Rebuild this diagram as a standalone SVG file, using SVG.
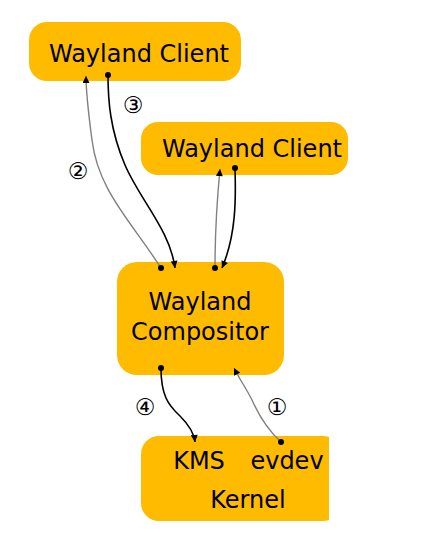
<svg xmlns="http://www.w3.org/2000/svg" width="446" height="538" viewBox="0 0 446 538">
<style>
.box{fill:#FFBB00}
.t{font-family:"DejaVu Sans",sans-serif;font-size:24px;fill:#000;text-anchor:middle}
.n{font-family:"DejaVu Sans",sans-serif;font-size:23px;fill:#000;text-anchor:middle}
.g{fill:none;stroke:#808080;stroke-width:1.4}
.k{fill:none;stroke:#000;stroke-width:1.6}
.d{fill:#000}
</style>
<defs>
<marker id="ak" viewBox="0 0 10 10" refX="10" refY="5" markerWidth="8" markerHeight="7" orient="auto" markerUnits="userSpaceOnUse"><path d="M0,0 L10,5 L0,10 z" fill="#000"/></marker>
</defs>
<g id="client1"><rect class="box" x="29" y="22" width="212" height="59" rx="18"/><text class="t" x="139" y="62">Wayland Client</text></g>
<g id="client2"><rect class="box" x="141" y="122" width="207" height="53" rx="17"/><text class="t" x="252" y="157">Wayland Client</text></g>
<g id="compositor"><rect class="box" x="117" y="262" width="167" height="113" rx="20"/><text class="t" x="200" y="310">Wayland</text><text class="t" x="200" y="340">Compositor</text></g>
<g id="kernel"><rect class="box" x="141" y="436" width="200" height="85" rx="18"/><rect x="329" y="430" width="20" height="95" fill="#fff"/><text class="t" x="199" y="469">KMS</text><text class="t" x="287" y="469">evdev</text><text class="t" x="248" y="508">Kernel</text></g>
<g id="connectors">
<path class="g" d="M161,268 C130,220 98,190 92,140 C88,110 86,95 86,76" marker-end="url(#ak)"/>
<path class="k" d="M108,75 C108,100 110,130 125,165 C140,200 170,230 175,268" marker-end="url(#ak)"/>
<path class="g" d="M215,268 C215,230 217,200 220,169" marker-end="url(#ak)"/>
<path class="k" d="M235,168 C236,200 236,235 222,268" marker-end="url(#ak)"/>
<path class="k" d="M161,368 C161,395 168,405 180,416 C188,424 194,432 195,442" marker-end="url(#ak)"/>
<path class="g" d="M281,442 C270,432 260,418 252,400 C246,388 240,380 234,368" marker-end="url(#ak)"/>
<circle class="d" cx="161" cy="268" r="3"/>
<circle class="d" cx="108" cy="75" r="3"/>
<circle class="d" cx="215" cy="268" r="3"/>
<circle class="d" cx="235" cy="168" r="3"/>
<circle class="d" cx="161" cy="368" r="3"/>
<circle class="d" cx="281" cy="442" r="3"/>
<text class="n" x="133" y="113">③</text>
<text class="n" x="78" y="179">②</text>
<text class="n" x="145" y="415">④</text>
<text class="n" x="277" y="415">①</text>
</g>
</svg>
